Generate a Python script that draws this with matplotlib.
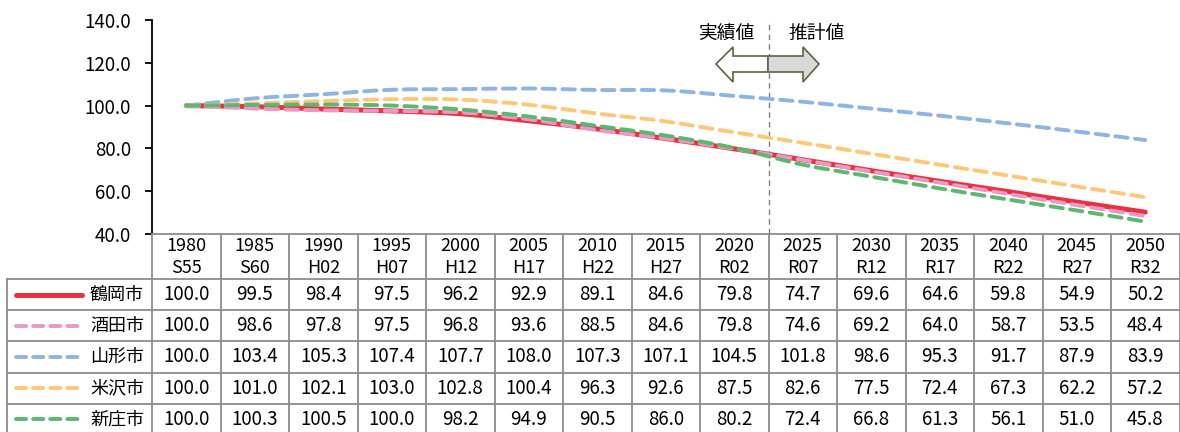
import matplotlib.pyplot as plt
import numpy as np
from matplotlib.path import Path
from matplotlib.patches import PathPatch, Polygon
from matplotlib.lines import Line2D

plt.rcParams['font.family'] = ['Noto Sans CJK JP', 'DejaVu Sans']

years = ['1980', '1985', '1990', '1995', '2000', '2005', '2010', '2015',
         '2020', '2025', '2030', '2035', '2040', '2045', '2050']
eras = ['S55', 'S60', 'H02', 'H07', 'H12', 'H17', 'H22', 'H27',
        'R02', 'R07', 'R12', 'R17', 'R22', 'R27', 'R32']

cities = ['鶴岡市', '酒田市', '山形市', '米沢市', '新庄市']
tsuruoka = [100.0, 99.5, 98.4, 97.5, 96.2, 92.9, 89.1, 84.6, 79.8, 74.7, 69.6, 64.6, 59.8, 54.9, 50.2]
sakata = [100.0, 98.6, 97.8, 97.5, 96.8, 93.6, 88.5, 84.6, 79.8, 74.6, 69.2, 64.0, 58.7, 53.5, 48.4]
yamagata = [100.0, 103.4, 105.3, 107.4, 107.7, 108.0, 107.3, 107.1, 104.5, 101.8, 98.6, 95.3, 91.7, 87.9, 83.9]
yonezawa = [100.0, 101.0, 102.1, 103.0, 102.8, 100.4, 96.3, 92.6, 87.5, 82.6, 77.5, 72.4, 67.3, 62.2, 57.2]
shinjo = [100.0, 100.3, 100.5, 100.0, 98.2, 94.9, 90.5, 86.0, 80.2, 72.4, 66.8, 61.3, 56.1, 51.0, 45.8]
series = [tsuruoka, sakata, yamagata, yonezawa, shinjo]

colors = ['#E8323F', '#E69AC6', '#8EB4E3', '#FFC878', '#5CB86F']
solid = [True, False, False, False, False]
widths = [3.6, 2.8, 2.8, 2.8, 2.8]

W, H = 1180, 432
fig = plt.figure(figsize=(W / 100, H / 100), dpi=100)

# layout in pixels
x0, x1 = 152, 1179.5
ytop, ybot = 20, 234
ax = fig.add_axes([x0 / W, 1 - ybot / H, (x1 - x0) / W, (ybot - ytop) / H])
n = len(years)
ax.set_xlim(-0.5, n - 0.5)
ax.set_ylim(40, 140)
ax.set_yticks(np.arange(40, 141, 20))
ax.set_yticklabels([f'{v:.1f}' for v in np.arange(40, 141, 20)], fontsize=13.5)
ax.set_xticks([])
for s in ['top', 'right', 'bottom']:
    ax.spines[s].set_visible(False)
ax.spines['left'].set_linewidth(1.3)
ax.tick_params(axis='y', length=5, width=1.3, pad=10)


def smooth_path(xs, ys):
    # Excel-like smoothed line as cubic bezier segments
    pts = np.column_stack([xs, ys])
    verts = [pts[0]]
    codes = [Path.MOVETO]
    for i in range(len(pts) - 1):
        p0 = pts[i - 1] if i > 0 else pts[i]
        p1 = pts[i]
        p2 = pts[i + 1]
        p3 = pts[i + 2] if i + 2 < len(pts) else pts[i + 1]
        c1 = p1 + (p2 - p0) / 6
        c2 = p2 - (p3 - p1) / 6
        verts += [c1, c2, p2]
        codes += [Path.CURVE4] * 3
    return Path(verts, codes)


xs = np.arange(n)
for k, (vals, c) in enumerate(zip(series, colors)):
    ls = '-' if solid[k] else (0, (3.2, 1.9))
    patch = PathPatch(smooth_path(xs, vals), fill=False, edgecolor=c,
                      lw=widths[k], linestyle=ls, capstyle='round',
                      joinstyle='round', zorder=3 + k)
    ax.add_patch(patch)

ax.axvline(8.5, color='#808080', lw=1, ls=(0, (4, 3)), zorder=2)

# overlay in pixel coordinates for table and annotation
ov = fig.add_axes([0, 0, 1, 1])
ov.set_xlim(0, W)
ov.set_ylim(H, 0)
ov.axis('off')

col_w = (x1 - x0) / n
grid = '#8c8c8c'
row_top = 279
row_h = 31.2
hdr_top = ybot

# header row lines
ov.plot([x0, x1], [hdr_top, hdr_top], color=grid, lw=1.3)
for i in range(n + 1):
    xx = x0 + i * col_w
    ov.plot([xx, xx], [hdr_top, H + 5], color=grid, lw=1.3)
ov.plot([7, x1], [row_top, row_top], color=grid, lw=1.3)
for r in range(1, len(cities) + 1):
    yy = row_top + r * row_h
    ov.plot([7, x1], [yy, yy], color=grid, lw=1.3)
ov.plot([7, 7], [row_top, H + 5], color=grid, lw=1.3)

for i in range(n):
    cx = x0 + (i + 0.5) * col_w
    ov.text(cx, 246, years[i], ha='center', va='center', fontsize=13)
    ov.text(cx, 268, eras[i], ha='center', va='center', fontsize=13)

for r, (name, vals) in enumerate(zip(cities, series)):
    cy = row_top + (r + 0.5) * row_h
    ls = '-' if solid[r] else (0, (2.6, 1.8))
    ov.add_line(Line2D([16, 82], [cy, cy], color=colors[r], lw=widths[r],
                       linestyle=ls, solid_capstyle='round', dash_capstyle='round'))
    ov.text(144, cy, name, ha='right', va='center', fontsize=13)
    for i, v in enumerate(vals):
        cx = x0 + (i + 0.5) * col_w
        ov.text(cx, cy, f'{v:.1f}', ha='center', va='center', fontsize=13.5)

# 実績値 / 推計値 arrows
edge = '#5a6640'
left_arrow = [(716, 64), (733, 47), (733, 56), (768, 56), (768, 72), (733, 72), (733, 82)]
right_arrow = [(768, 56), (803, 56), (803, 47), (819, 64), (803, 82), (803, 72), (768, 72)]
ov.add_patch(Polygon(left_arrow, closed=True, facecolor='white', edgecolor=edge, lw=1.2, zorder=5))
ov.add_patch(Polygon(right_arrow, closed=True, facecolor='#D9D9D9', edgecolor=edge, lw=1.2, zorder=5))
ov.text(726, 33, '実績値', ha='center', va='center', fontsize=13.5)
ov.text(817, 33, '推計値', ha='center', va='center', fontsize=13.5)

fig.savefig('out.png', dpi=100)
